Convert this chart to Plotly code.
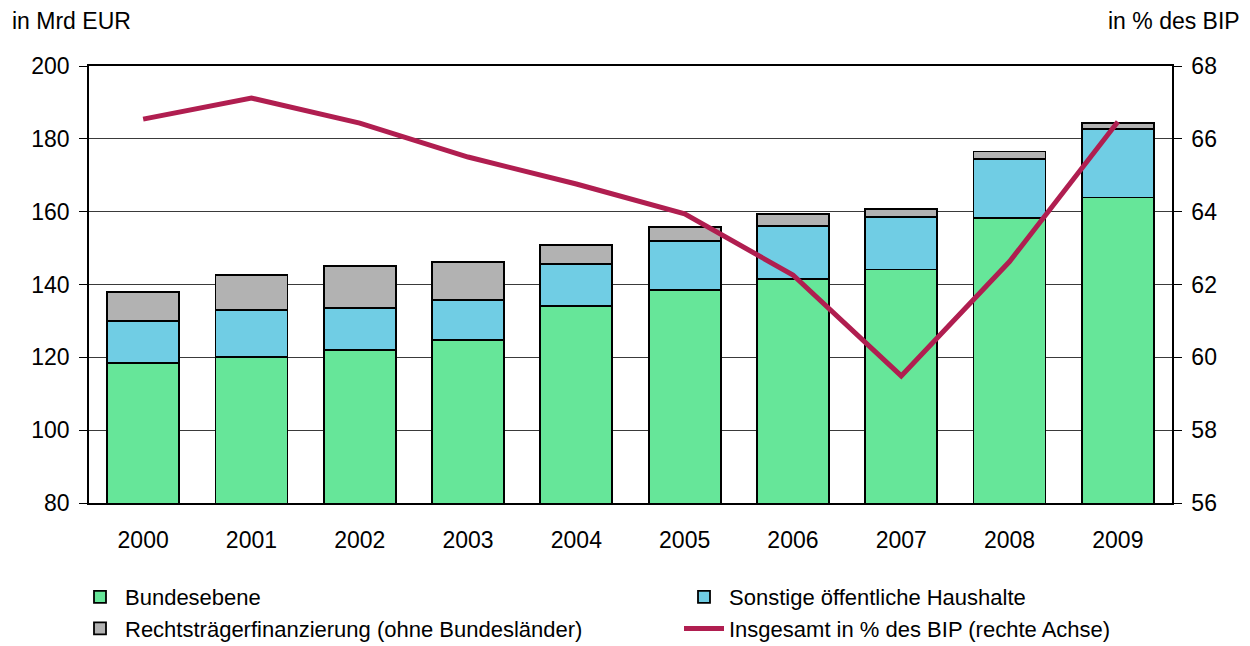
import plotly.graph_objects as go

years = ["2000", "2001", "2002", "2003", "2004", "2005", "2006", "2007", "2008", "2009"]
bund_top = [118.4, 120.1, 122.0, 124.8, 134.1, 138.4, 141.5, 144.1, 158.2, 163.9]
sonst_top = [130.0, 133.0, 133.5, 135.7, 145.6, 151.9, 156.1, 158.6, 174.5, 182.7]
recht_top = [137.9, 142.6, 145.1, 146.2, 150.8, 155.7, 159.3, 160.8, 176.5, 184.3]
bip_pct = [66.54, 67.12, 66.43, 65.50, 64.76, 63.94, 62.26, 59.49, 62.63, 66.47]

bund = bund_top
sonst = [round(s - b, 2) for s, b in zip(sonst_top, bund_top)]
recht = [round(r - s, 2) for r, s in zip(recht_top, sonst_top)]

FONT = "Liberation Sans, Arial, sans-serif"
outline = dict(color="black", width=1.8)

fig = go.Figure()
fig.add_trace(go.Bar(x=years, y=bund, name="Bundesebene", legend="legend",
                     marker=dict(color="#66E699", line=outline)))
fig.add_trace(go.Bar(x=years, y=sonst, name="Sonstige öffentliche Haushalte", legend="legend2",
                     marker=dict(color="#70CDE4", line=outline)))
fig.add_trace(go.Bar(x=years, y=recht, name="Rechtsträgerfinanzierung (ohne Bundesländer)",
                     legend="legend", marker=dict(color="#B2B2B2", line=outline)))
fig.add_trace(go.Scatter(x=years, y=bip_pct, name="Insgesamt in % des BIP (rechte Achse)",
                         yaxis="y2", mode="lines", legend="legend2",
                         line=dict(color="#B01E50", width=5)))

W, H = 1242, 638
L, R, T, B = 81, 78, 58, 143
PW = W - L - R
PH = H - T - B

leg_common = dict(orientation="v", traceorder="normal", yanchor="top", xanchor="left",
                  font=dict(family=FONT, size=22, color="black"),
                  itemwidth=40, bgcolor="rgba(0,0,0,0)")

fig.update_layout(
    barmode="stack",
    bargap=0.335,
    width=W, height=H,
    margin=dict(l=L, r=R, t=T, b=B, autoexpand=False),
    paper_bgcolor="white", plot_bgcolor="white",
    font=dict(family=FONT, size=23, color="black"),
    showlegend=True,
    legend=dict(x=(67 - L) / PW, y=-73 / PH, **leg_common),
    legend2=dict(x=(671 - L) / PW, y=-73 / PH, **leg_common),
    xaxis=dict(type="category", showline=True, linecolor="black", linewidth=1.5,
               mirror=True, showgrid=False, ticks="", ticklabelstandoff=16,
               tickfont=dict(size=23)),
    yaxis=dict(range=[80, 200], dtick=20, tick0=80, showline=True, linecolor="black",
               linewidth=1.5, ticks="outside", ticklen=8, tickcolor="black",
               showgrid=True, gridcolor="#3a3a3a", gridwidth=1, zeroline=False,
               ticklabelstandoff=5, tickfont=dict(size=23)),
    yaxis2=dict(range=[56, 68], dtick=2, tick0=56, overlaying="y", side="right",
                showline=True, linecolor="black", linewidth=1.5, ticks="outside",
                ticklen=8, tickcolor="black", showgrid=False, zeroline=False,
                ticklabelstandoff=5, tickfont=dict(size=23)),
    annotations=[
        dict(text="in Mrd EUR", xref="paper", yref="paper", x=(2 - L) / PW, y=1.0,
             xanchor="left", yanchor="bottom", yshift=30, showarrow=False,
             font=dict(size=23)),
        dict(text="in % des BIP", xref="paper", yref="paper", x=1 + (R - 8) / PW, y=1.0,
             xanchor="right", yanchor="bottom", yshift=30, showarrow=False,
             font=dict(size=23)),
    ],
)

fig.write_html("out.html")
